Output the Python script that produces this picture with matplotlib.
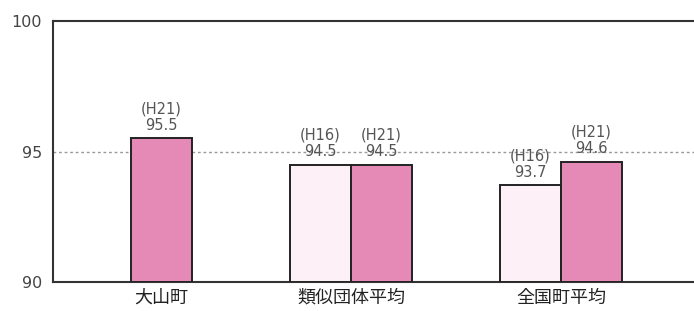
import matplotlib.pyplot as plt
import numpy as np

plt.rcParams['font.family'] = ['Noto Sans CJK JP', 'DejaVu Sans']

categories = ["大山町", "類似団体平均", "全国町平均"]
h16_values = [None, 94.5, 93.7]
h21_values = [95.5, 94.5, 94.6]
h16_label = "(H16)"
h21_label = "(H21)"
yticks = [90, 95, 100]

# layout (pixel-like x units)
centers = [161, 351, 561]
width = 61
pink = "#e58ab7"
light = "#fdf1f7"

fig = plt.figure(figsize=(6.94, 3.11), dpi=100)
ax = fig.add_axes([53/694, 29/311, 660/694, 261/311])

for k, c in enumerate(centers):
    if h16_values[k] is None:
        xs = [(c, h21_values[k], h21_label, pink)]
    else:
        xs = [(c - width/2, h16_values[k], h16_label, light),
              (c + width/2, h21_values[k], h21_label, pink)]
    for x, v, lab, col in xs:
        ax.bar(x, v - 90, width, bottom=90, color=col, edgecolor="#222222", linewidth=1.4, zorder=3)
        ax.text(x, v + 0.22, lab + "\n" + f"{v:.1f}", ha="center", va="bottom",
                fontsize=10.5, color="#555555", linespacing=1.1,
                family=['DejaVu Sans'], zorder=4)

ax.axhline(95, color="#999999", linestyle=(0, (2, 2)), linewidth=1.0, zorder=1)

ax.set_xlim(53, 713)
ax.set_ylim(90, 100)
ax.set_yticks(yticks)
ax.set_yticklabels([str(t) for t in yticks], fontsize=11.5, color="#444444", family=['DejaVu Sans'])
ax.tick_params(axis='y', length=0, pad=8)
ax.set_xticks(centers)
ax.set_xticklabels(categories, fontsize=13, color="#222222")
ax.tick_params(axis='x', length=0, pad=5)

for s in ["left", "top", "bottom"]:
    ax.spines[s].set_color("#333333")
    ax.spines[s].set_linewidth(1.5)
ax.spines["right"].set_visible(False)

fig.savefig("out.png", dpi=100)
